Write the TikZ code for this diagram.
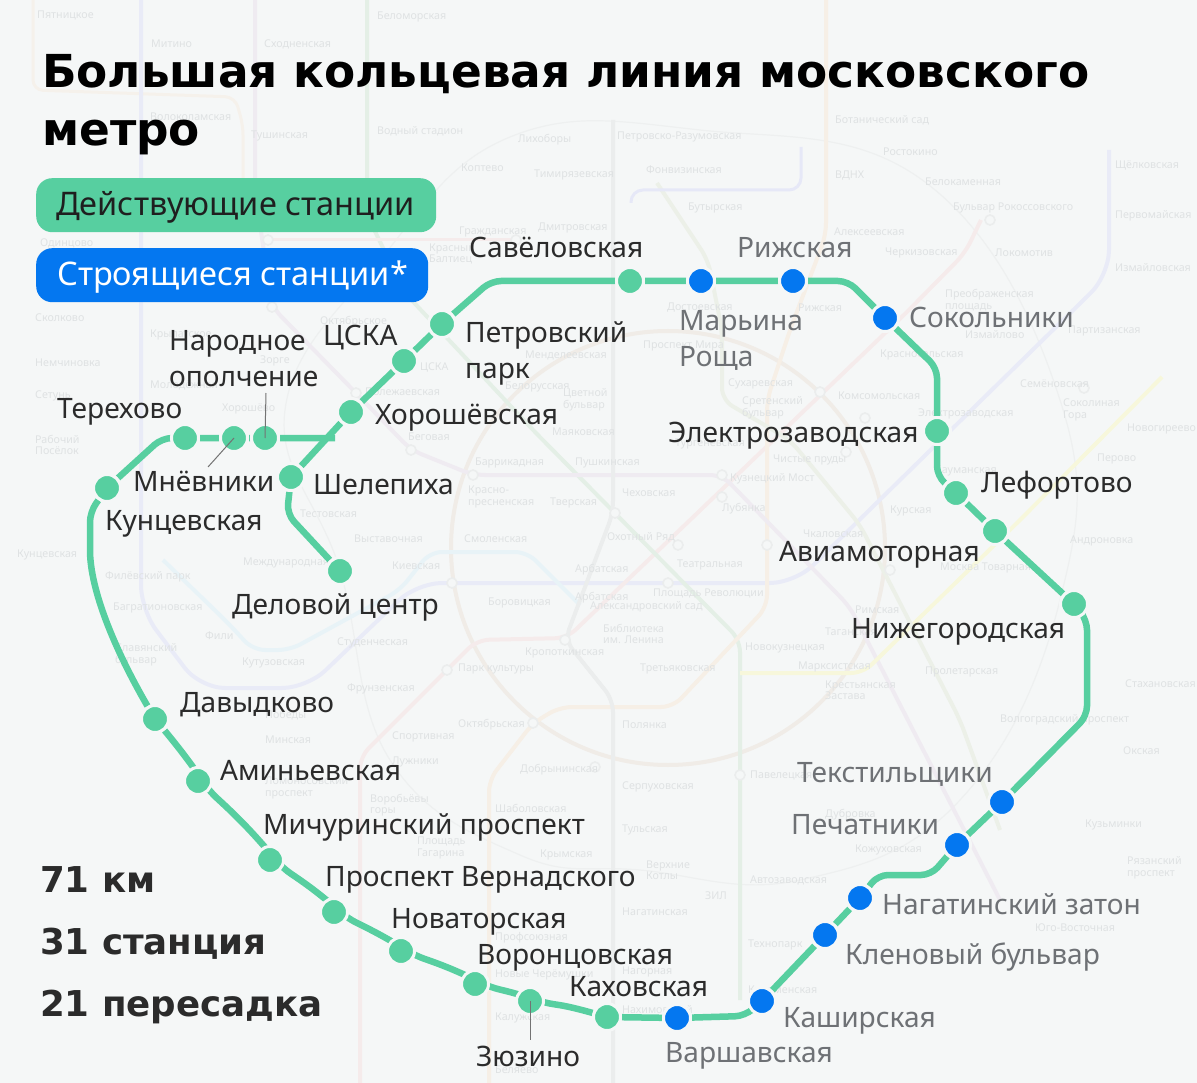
\documentclass[tikz,border=0pt]{standalone}
\usepackage{fontspec}
\setmainfont{Noto Sans}
\newfontfamily\titlefont{DejaVu Sans}
\usetikzlibrary{backgrounds}
\definecolor{bgcol}{HTML}{F5F7F7}
\definecolor{opengreen}{HTML}{57CFA0}
\definecolor{buildblue}{HTML}{0477F0}
\definecolor{darktext}{HTML}{2B2B2B}
\definecolor{greytext}{HTML}{6E7175}
\definecolor{ghosttext}{HTML}{DFE2E3}
\tikzset{
  stopen/.style={circle,fill=opengreen,draw=bgcol,line width=3pt,minimum size=27pt,inner sep=0pt},
  stbuild/.style={circle,fill=buildblue,draw=bgcol,line width=3pt,minimum size=27pt,inner sep=0pt},
  ringline/.style={draw=opengreen,line width=6.5pt,rounded corners=10pt},
  leader/.style={draw=black!55,line width=1pt},
  lab/.style={font=\fontsize{28.1}{36}\selectfont,text=darktext,inner sep=0pt,anchor=base west,align=left},
  labgrey/.style={lab,text=greytext},
  legendbox/.style={rounded corners=16pt,minimum height=54pt,inner sep=0pt,anchor=north west},
  legendtext/.style={font=\fontsize{32.5}{36}\selectfont,text=black!88,inner sep=0pt,anchor=base west},
  titletext/.style={font=\titlefont\bfseries\fontsize{45.4}{46}\selectfont,text=black,inner sep=0pt,anchor=base west},
  stat/.style={font=\titlefont\bfseries\fontsize{35.6}{37}\selectfont,text=darktext,inner sep=0pt,anchor=base west},
  faint/.style={line width=4pt,line join=round,rounded corners=12pt},
  ghost/.style={font=\fontsize{10.7}{11.5}\selectfont,text=ghosttext,inner sep=0pt,anchor=west,align=left},
  ghostring/.style={circle,draw=black!4!bgcol,fill=bgcol,line width=1.6pt,minimum size=10pt,inner sep=0pt}
}
\begin{document}
\begin{tikzpicture}[x=1pt,y=-1pt]
        \useasboundingbox (0,0) rectangle (1197,1083);
        % stations, running round the line
        \node[stopen] (savel) at (630,281) {};
        \node[stbuild] (marina) at (701,281) {};
        \node[stbuild] (rizh) at (793,281) {};
        \node[stbuild] (sokol) at (885,318) {};
        \node[stopen] (elektro) at (937,431) {};
        \node[stopen] (lefort) at (956,493) {};
        \node[stopen] (avia) at (995,531) {};
        \node[stopen] (nizhe) at (1074,604) {};
        \node[stbuild] (tekst) at (1002,802) {};
        \node[stbuild] (pechat) at (957,845) {};
        \node[stbuild] (nagat) at (860,898) {};
        \node[stbuild] (klen) at (825,935) {};
        \node[stbuild] (kash) at (762,1001) {};
        \node[stbuild] (varsh) at (677,1018) {};
        \node[stopen] (kakh) at (607,1017) {};
        \node[stopen] (zyuz) at (530,1001) {};
        \node[stopen] (voron) at (475,984) {};
        \node[stopen] (novat) at (401,951) {};
        \node[stopen] (vernad) at (334,912) {};
        \node[stopen] (michur) at (270,860) {};
        \node[stopen] (aminev) at (198,781) {};
        \node[stopen] (davyd) at (155,719) {};
        \node[stopen] (kunts) at (107,488) {};
        \node[stopen] (terekh) at (185,438) {};
        \node[stopen] (mnevn) at (234,438) {};
        \node[stopen] (narod) at (265,438) {};
        \node[stopen] (shele) at (291,477) {};
        \node[stopen] (horosh) at (351,412) {};
        \node[stopen] (cska) at (404,361) {};
        \node[stopen] (petro) at (442,324) {};
        \node[stopen] (delov) at (340,571) {};
        \coordinate (bendnw) at (491,281);
        \coordinate (bendne) at (848,281);
        \coordinate (bendsok) at (937,368);
        \coordinate (bendlef) at (937,476);
        \coordinate (bende) at (1087,620);
        \coordinate (bendse) at (1087,716);
        \coordinate (bendpa) at (931,875);
        \coordinate (bendpb) at (878,875);
        \coordinate (bendkash) at (745,1016);
        \coordinate (bendterekh) at (162,438);
        \coordinate (bendshele) at (287,514);
        \coordinate (bendkunts) at (90,512);
        \coordinate (joinnarod) at (335,438);
        \begin{scope}[on background layer]
        \fill[bgcol] (0,0) rectangle (1197,1083);
        % background map
        \draw[line width=1.2pt,draw=black!3!bgcol] plot[smooth cycle,tension=.7] coordinates {(285,410) (340,570) (390,760) (520,855) (640,870) (800,880) (960,800) (1060,600) (1060,400) (925,182) (700,130) (510,137) (380,260)};
        \draw[faint,draw=orange!5!bgcol,line width=3pt,rounded corners=10pt] (33,0) -- (33,90) -- (235,97) -- (243,125) -- (243,215);
        \draw[faint,draw=brown!9!bgcol] (668,548) circle (217);
        \draw[faint,draw=blue!5!bgcol,rounded corners=25pt] (141,0) -- (141,610) -- (200,688) -- (307,688) -- (417,583) -- (795,583) -- (1109,275) -- (1109,150);
        \draw[faint,draw=cyan!6!bgcol] (163,560) -- (228,623) -- (253,650) -- (290,650) -- (400,590) -- (430,552) -- (527,552) -- (580,605);
        \draw[faint,draw=red!5!bgcol] (360,1083) -- (360,757) -- (477,640) -- (567,638) -- (906,313) -- (965,253) -- (981,220);
        \draw[faint,draw=green!50!black!7!bgcol] (367,0) -- (367,215) -- (405,293) -- (533,430) -- (740,640) -- (740,1000);
        \draw[faint,draw=orange!7!bgcol] (489,1083) -- (489,780) -- (533,723) -- (560,707) -- (673,707) -- (767,607) -- (767,400) -- (790,330) -- (826,235) -- (826,0);
        \draw[faint,draw=violet!5!bgcol] (1000,900) -- (850,607) -- (722,475) -- (473,475) -- (411,450) -- (356,393) -- (272,307) -- (255,190) -- (255,0);
        \draw[faint,draw=yellow!12!bgcol] (740,673) -- (863,673) -- (1017,523) -- (1162,377);
        \draw[faint,draw=black!4!bgcol] (613,1083) -- (613,700) -- (565,640) -- (613,513) -- (613,120);
        \draw[faint,draw=lime!50!black!6!bgcol] (657,183) -- (708,260) -- (722,330) -- (722,400) -- (790,440) -- (860,525) -- (960,720) -- (1000,830);
        \draw[faint,draw=blue!6!bgcol,line width=3pt] (631,203) -- (631,190) -- (801,190) -- (801,147);
        \draw[faint,draw=red!5!bgcol,line width=3pt] (268,240) -- (516,240);
        % faint stations
        \foreach \gx/\gy [count=\g] in {272/307,268/240,516/240,356/393,411/450,473/475,722/475,722/497,615/513,452/583,565/640,668/583,678/545,767/545,447/670,533/723,595/767,740/775,865/418,846/452,820/392,890/570,990/220,1084/388}
          \node[ghostring] (gr\g) at (\gx,\gy) {};
        % faint names
        \foreach \gx/\gy/\gname [count=\g] in {40/243/Одинцово,35/318/Сколково,35/363/Немчиновка,35/396/Сетунь,35/445/{Рабочий\\Посёлок},17/555/Кунцевская,150/335/Крылатское,150/385/Молодёжная,222/409/Хорошёво,365/392/Полежаевская,260/361/Зорге,320/322/{Октябрьское},420/367/ЦСКА,525/355/Менделеевская,505/387/Белорусская,563/400/{Цветной\\бульвар},408/437/Беговая,552/432/Маяковская,475/463/Баррикадная,575/463/Пушкинская,468/497/{Красно-\\пресненская},550/503/Тверская,622/493/Чеховская,300/514/Тестовская,354/539/Выставочная,392/566/Киевская,243/563/Международная,464/539/Смоленская,575/570/Арбатская,575/598/Арбатская,488/603/Боровицкая,603/634/{Библиотека\\им. Ленина},590/607/Александровский сад,525/653/Кропоткинская,458/669/Парк культуры,640/669/Третьяковская,458/725/Октябрьская,745/648/Новокузнецкая,677/565/Театральная,607/537/Охотный Ряд,653/593/Площадь Революции,730/479/Кузнецкий Мост,722/509/Лубянка,773/460/Чистые пруды,675/444/Тургеневская,742/408/{Сретенский\\бульвар},728/384/Сухаревская,643/346/Проспект Мира,838/396/Комсомольская,880/355/Красносельская,798/308/Рижская,667/308/Достоевская,834/232/Алексеевская,835/176/ВДНХ,835/120/Ботанический сад,883/152/Ростокино,925/182/Белокаменная,953/208/Бульвар Рокоссовского,885/253/Черкизовская,995/253/Локомотив,945/300/{Преображенская\\площадь},965/335/Измайлово,1068/331/Партизанская,1020/384/Семёновская,1063/410/{Соколиная\\Гора},1127/429/Новогиреево,1097/459/Перово,935/471/Бауманская,918/414/Электрозаводская,890/511/Курская,803/534/Чкаловская,1070/541/Андроновка,940/568/Москва Товарная,825/632/Таганская,855/610/Римская,798/667/Марксистская,825/690/{Крестьянская\\Застава},925/672/Пролетарская,1000/720/Волгоградский проспект,1115/165/Щёлковская,1115/216/Первомайская,1115/268/Измайловская,1125/684/Стахановская,1123/751/Окская,1085/825/Кузьминки,1127/868/{Рязанский\\проспект},1035/928/Юго-Восточная,105/577/Филёвский парк,113/608/Багратионовская,205/636/Фили,115/655/{Славянский\\бульвар},242/663/Кутузовская,337/643/Студенческая,347/689/Фрунзенская,265/715/Победы,265/740/Минская,265/788/{Ломоносовский\\проспект},392/737/Спортивная,392/762/Лужники,370/805/{Воробьёвы\\горы},417/848/{Площадь\\Гагарина},495/808/Шаболовская,622/725/Полянка,622/787/Серпуховская,520/770/Добрынинская,622/830/Тульская,540/855/Крымская,646/870/{Верхние\\Котлы},705/896/ЗИЛ,622/912/Нагатинская,750/880/Автозаводская,750/775/Павелецкая,748/945/Технопарк,748/990/Коломенская,622/972/Нагорная,495/938/Профсоюзная,495/975/Новые Черёмушки,495/1018/Калужская,622/1010/Нахимовский,495/1070/Беляево,855/850/Кожуховская,825/815/Дубровка,37/15/Пятницкое,151/44/Митино,264/44/Сходненская,251/136/Тушинская,377/17/Беломорская,377/131/Водный стадион,150/117/Волоколамская,461/168/Коптево,534/175/Тимирязевская,518/140/Лихоборы,617/137/Петровско-Разумовская,646/170/Фонвизинская,688/208/Бутырская,459/232/Гражданская,538/228/Дмитровская,429/254/{Красный\\Балтиец}}
          \node[ghost] (gn\g) at (\gx,\gy) {\gname};
        % line
        \draw[ringline] (savel) -- (marina) -- (rizh) -- (bendne) -- (sokol) -- (bendsok) -- (elektro) -- (bendlef) -- (lefort) -- (avia) -- (nizhe) -- (bende) -- (bendse) -- (tekst) -- (pechat) -- (bendpa) -- (bendpb) -- (nagat) -- (klen) -- (kash) -- (bendkash) -- (varsh) -- (kakh);
        \draw[ringline] (kakh) to[bend right=4] (zyuz) to[bend right=3] (voron) to[bend right=4] (novat) to[bend right=3] (vernad) to[bend right=4] (michur) to[bend right=4] (aminev) to[bend right=3] (davyd);
        \draw[ringline] (davyd) .. controls (115,650) and (90,590) .. (90,540) -- (bendkunts) -- (kunts);
        \draw[ringline] (kunts) -- (bendterekh) -- (terekh) -- (mnevn) -- (narod) -- (joinnarod);
        \draw[ringline] (savel) -- (bendnw) -- (petro) -- (cska) -- (horosh) -- (shele) -- (bendshele) -- (delov);
        \end{scope}
        % title and legend
        \node[titletext] (title) at (42,88) {Большая кольцевая линия московского};
        \node[titletext] (titleb) at (42,146) {метро};
        \node[legendbox,fill=opengreen,minimum width=400pt] (legopen) at (36,178) {};
        \node[legendbox,fill=buildblue,minimum width=392pt] (legbuild) at (36,248) {};
        \node[legendtext] (legopentext) at (56,216) {Действующие станции};
        \node[legendtext,text=white] (legbuildtext) at (57,286) {Строящиеся станции*};
        % labels
        \node[lab] (labsavel) at (469,258) {Савёловская};
        \node[labgrey] (labrizh) at (737,258) {Рижская};
        \node[labgrey,anchor=west] (labmarina) at (679,340) {Марьина\\Роща};
        \node[labgrey] (labsokol) at (909,328) {Сокольники};
        \node[lab] (labelektro) at (668,442) {Электрозаводская};
        \node[lab] (lablefort) at (981,492) {Лефортово};
        \node[lab] (labavia) at (779,561) {Авиамоторная};
        \node[lab] (labnizhe) at (851,638) {Нижегородская};
        \node[labgrey] (labtekst) at (797,782) {Текстильщики};
        \node[labgrey] (labpechat) at (791,834) {Печатники};
        \node[labgrey] (labnagat) at (882,914) {Нагатинский затон};
        \node[labgrey] (labklen) at (845,964) {Кленовый бульвар};
        \node[labgrey] (labkash) at (783,1027) {Каширская};
        \node[labgrey] (labvarsh) at (665,1062) {Варшавская};
        \node[lab] (labkakh) at (569,996) {Каховская};
        \node[lab] (labzyuz) at (476,1066) {Зюзино};
        \node[lab] (labvoron) at (477,964) {Воронцовская};
        \node[lab] (labnovat) at (391,928) {Новаторская};
        \node[lab] (labvernad) at (325,886) {Проспект Вернадского};
        \node[lab] (labmichur) at (263,834) {Мичуринский проспект};
        \node[lab] (labaminev) at (220,780) {Аминьевская};
        \node[lab] (labdavyd) at (180,712) {Давыдково};
        \node[lab] (labdelov) at (232,614) {Деловой центр};
        \node[lab] (labkunts) at (105,530) {Кунцевская};
        \node[lab] (labmnevn) at (133,491) {Мнёвники};
        \node[lab] (labshele) at (313,494) {Шелепиха};
        \node[lab] (labterekh) at (57,418) {Терехово};
        \node[lab,anchor=west] (labnarod) at (169,359) {Народное\\ополчение};
        \node[lab] (labcska) at (323,345) {ЦСКА};
        \node[lab,anchor=west] (labpetro) at (465,353) {Петровский\\парк};
        \node[lab] (labhorosh) at (375,424) {Хорошёвская};
        % leaders
        \coordinate (leadnarod) at (266,393);
        \coordinate (leadmnevn) at (208,467);
        \coordinate (leadzyuz) at (530,1040);
        \draw[leader] (narod.center) -- (leadnarod);
        \draw[leader] (mnevn.center) -- (leadmnevn);
        \draw[leader] (zyuz.center) -- (leadzyuz);
        % figures
        \node[stat] (figkm) at (40,892) {71 км};
        \node[stat] (figst) at (40,954) {31 станция};
        \node[stat] (figtr) at (40,1016) {21 пересадка};
\end{tikzpicture}
\end{document}
